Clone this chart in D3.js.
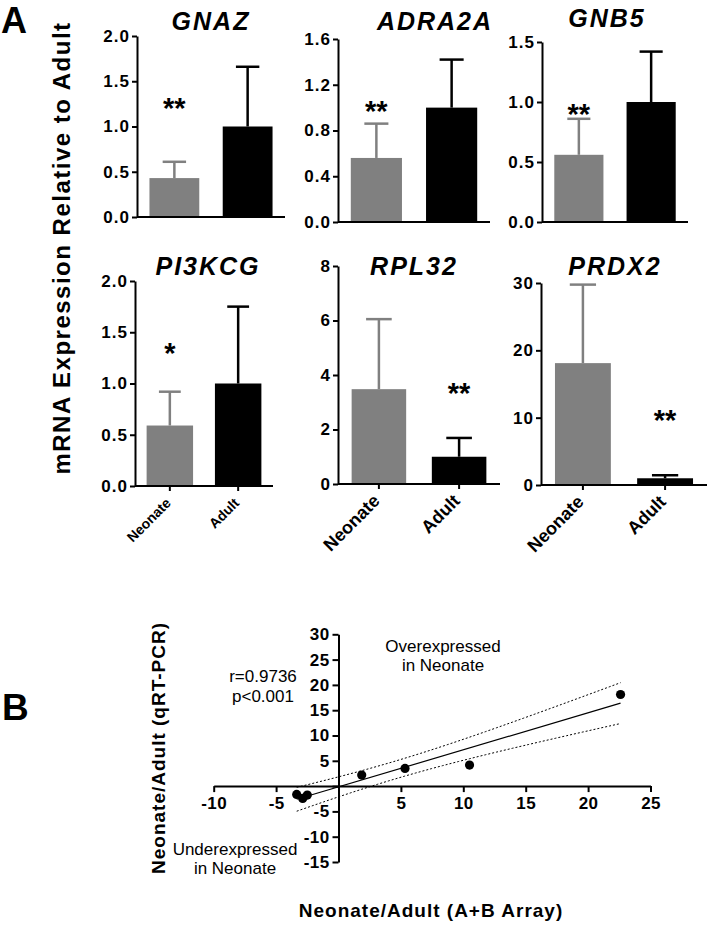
<!DOCTYPE html>
<html><head><meta charset="utf-8">
<script src="https://cdn.jsdelivr.net/npm/d3@7"></script>
<style>
body{margin:0;background:#fff}
svg{display:block}
text{font-family:"Liberation Sans",Arial,Helvetica,sans-serif;fill:#000}
</style>
</head><body><svg id="c" width="708" height="925"></svg>
<script>
// ---------- Panel A data ----------
const genes = ["GNAZ","ADRA2A","GNB5","PI3KCG","RPL32","PRDX2"];
const groups = ["Neonate","Adult"];
const neonateMean = [0.43,0.56,0.56,0.59,3.48,18.1];
const neonateSD   = [0.18,0.30,0.30,0.33,2.57,11.66];
const adultMean   = [1,1,1,1,1,1];
const adultSD     = [0.66,0.42,0.42,0.75,0.69,0.45];
const yMaxA = [2.0,1.6,1.5,2.0,8,30];
const yTicksA = [[0,0.5,1,1.5,2],[0,0.4,0.8,1.2,1.6],[0,0.5,1,1.5],[0,0.5,1,1.5,2],[0,2,4,6,8],[0,10,20,30]];
const yFormatA = [".1f",".1f",".1f",".1f","d","d"];
const sigMarks = ["**","**","**","*","**","**"];
const sigGroup = ["Neonate","Neonate","Neonate","Neonate","Adult","Adult"];
const sigLevel = [1.28,1.03,0.96,1.36,3.58,10.7];
const yLabelA = "mRNA Expression Relative to Adult";

// ---------- Panel B data ----------
const arrayRatio = [-3.35,-2.87,-2.5,1.86,5.33,10.5,22.6];
const pcrRatio   = [-1.64,-2.43,-1.78,2.17,3.5,4.15,18.1];
const xTicksB = [-10,-5,0,5,10,15,20,25];
const yTicksB = [-15,-10,-5,0,5,10,15,20,25,30];
const corrText = ["r=0.9736","p<0.001"];
const overText = ["Overexpressed","in Neonate"];
const underText = ["Underexpressed","in Neonate"];
const xTitleB = "Neonate/Adult (A+B Array)";
const yTitleB = "Neonate/Adult (qRT-PCR)";

const svg = d3.select("#c");
const GRAY = "#808080";
const FONT = '"Liberation Sans",Arial,Helvetica,sans-serif';

// ---------- layout (positions only) ----------
const panels = [
  {x0:137,x1:285,yt:36, yb:217,tdx:0,  ty:30, lab:0},
  {x0:338,x1:490,yt:39, yb:222,tdx:21, ty:30, lab:0},
  {x0:542,x1:688,yt:42, yb:222,tdx:-8, ty:27, lab:0},
  {x0:135,x1:273,yt:281,yb:486,tdx:4,  ty:275,lab:14},
  {x0:338,x1:500,yt:266,yb:484,tdx:-5, ty:275,lab:18},
  {x0:541,x1:707,yt:283,yb:485,tdx:-9, ty:275,lab:18}
];

function styleTicks(a, size, ls){
  a.attr("font-size",null).attr("font-family",null);
  a.select(".domain").attr("stroke-width",2);
  a.selectAll(".tick line").attr("stroke-width",2);
  a.selectAll(".tick text")
    .style("font-size",size+"px").style("font-weight","bold").style("letter-spacing",ls)
    .style("font-family",FONT).attr("fill","#000");
}

genes.forEach((g,i)=>{
  const P = panels[i];
  const x = d3.scaleBand().domain(groups).range([P.x0,P.x1]).paddingInner(0.32).paddingOuter(0.17);
  const y = d3.scaleLinear().domain([0,yMaxA[i]]).range([P.yb,P.yt]);
  const bw = x.bandwidth();
  const rows = [
    {grp:"Neonate",mean:neonateMean[i],sd:neonateSD[i],col:GRAY},
    {grp:"Adult",mean:adultMean[i],sd:adultSD[i],col:"#000"}
  ];
  const gp = svg.append("g");
  gp.selectAll("rect.bar").data(rows).join("rect")
    .attr("x",d=>x(d.grp)).attr("width",bw)
    .attr("y",d=>y(d.mean)).attr("height",d=>y(0)-y(d.mean))
    .attr("fill",d=>d.col);
  const cap = bw*0.47;
  rows.forEach(d=>{
    const cx = x(d.grp)+bw/2;
    gp.append("line").attr("x1",cx).attr("x2",cx).attr("y1",y(d.mean)).attr("y2",y(d.mean+d.sd))
      .attr("stroke",d.col).attr("stroke-width",2.5);
    gp.append("line").attr("x1",cx-cap/2).attr("x2",cx+cap/2).attr("y1",y(d.mean+d.sd)).attr("y2",y(d.mean+d.sd))
      .attr("stroke",d.col).attr("stroke-width",2.5);
  });
  const ax = gp.append("g").attr("transform",`translate(${P.x0},0)`)
    .call(d3.axisLeft(y).tickValues(yTicksA[i]).tickFormat(d3.format(yFormatA[i])).tickSize(5).tickSizeOuter(0).tickPadding(2));
  styleTicks(ax, 17, "1px");
  gp.append("line").attr("x1",P.x0).attr("x2",P.x1).attr("y1",P.yb).attr("y2",P.yb)
    .attr("stroke","#000").attr("stroke-width",2);
  if(P.lab){
    groups.forEach(c=>{
      const cx = x(c)+bw/2;
      gp.append("line").attr("x1",cx).attr("x2",cx).attr("y1",P.yb).attr("y2",P.yb+5)
        .attr("stroke","#000").attr("stroke-width",2);
      gp.append("text").attr("transform",`translate(${cx+2},${P.yb+18}) rotate(-45)`)
        .attr("text-anchor","end").attr("font-size",P.lab).attr("font-weight","bold").text(c);
    });
  }
  gp.append("text").attr("x",(P.x0+P.x1)/2+P.tdx).attr("y",P.ty)
    .attr("text-anchor","middle").attr("font-size",25).attr("font-weight","bold")
    .attr("font-style","italic").attr("letter-spacing","2px").text(g);
  gp.append("text").attr("x",x(sigGroup[i])+bw/2).attr("y",y(sigLevel[i])+0.58*29)
    .attr("text-anchor","middle").attr("font-size",29).attr("font-weight","bold").text(sigMarks[i]);
});

svg.append("text").attr("x",1).attr("y",33).attr("font-size",36).attr("font-weight","bold").text("A");
svg.append("text").attr("x",2).attr("y",720).attr("font-size",37).attr("font-weight","bold").text("B");

svg.append("text").attr("transform","translate(70,248) rotate(-90)")
  .attr("text-anchor","middle").attr("font-size",24).attr("font-weight","bold")
  .attr("letter-spacing","1.5px").text(yLabelA);

// ---------- Panel B ----------
const xB = d3.scaleLinear().domain([-10,25]).range([213.7,650.5]);
const yB = d3.scaleLinear().domain([-15,30]).range([862,634.3]);
const gB = svg.append("g");

// regression + 95% confidence band computed from the plotted points
const n = arrayRatio.length;
const mx = d3.mean(arrayRatio), my = d3.mean(pcrRatio);
let sxx=0, sxy=0;
for(let k=0;k<n;k++){sxx+=(arrayRatio[k]-mx)**2; sxy+=(arrayRatio[k]-mx)*(pcrRatio[k]-my);}
const slope = sxy/sxx, icpt = my-slope*mx;
let sse=0; for(let k=0;k<n;k++){sse+=(pcrRatio[k]-(icpt+slope*arrayRatio[k]))**2;}
const s = Math.sqrt(sse/(n-2));
const tcrit = 2.571;
const xmin = d3.min(arrayRatio), xmax = d3.max(arrayRatio);
const xs = d3.range(0,61).map(j=>xmin+(xmax-xmin)*j/60);
const hw = xv => tcrit*s*Math.sqrt(1/n+(xv-mx)**2/sxx);
const lineGen = d3.line().x(d=>xB(d[0])).y(d=>yB(d[1]));
gB.append("path").attr("d",lineGen([[xmin,icpt+slope*xmin],[xmax,icpt+slope*xmax]]))
  .attr("fill","none").attr("stroke","#000").attr("stroke-width",1.2);
gB.append("path").attr("d",lineGen(xs.map(v=>[v,icpt+slope*v+hw(v)])))
  .attr("fill","none").attr("stroke","#000").attr("stroke-width",1).attr("stroke-dasharray","2,2");
gB.append("path").attr("d",lineGen(xs.map(v=>[v,icpt+slope*v-hw(v)])))
  .attr("fill","none").attr("stroke","#000").attr("stroke-width",1).attr("stroke-dasharray","2,2");

const fmtB = d=> d===0 ? "" : String(d);
const axX = gB.append("g").attr("transform",`translate(0,${yB(0)})`)
  .call(d3.axisBottom(xB).tickValues(xTicksB).tickFormat(fmtB).tickSize(6).tickSizeOuter(0).tickPadding(5));
const axY = gB.append("g").attr("transform",`translate(${xB(0)},0)`)
  .call(d3.axisLeft(yB).tickValues(yTicksB).tickFormat(fmtB).tickSize(6).tickSizeOuter(0).tickPadding(3));
styleTicks(axX, 17, "0.4px");
styleTicks(axY, 17, "0.4px");

gB.selectAll("circle.pt").data(arrayRatio.map((v,k)=>[v,pcrRatio[k]])).join("circle")
  .attr("cx",d=>xB(d[0])).attr("cy",d=>yB(d[1])).attr("r",4.6).attr("fill","#000");

const multiline = (lines,x,y0,dy)=>lines.forEach((t,k)=>gB.append("text").attr("x",x).attr("y",y0+k*dy)
  .attr("text-anchor","middle").attr("font-size",17).text(t));
multiline(corrText,263,682,19.5);
multiline(overText,443,652,19);
multiline(underText,235,855,18.5);

gB.append("text").attr("x",431).attr("y",917).attr("text-anchor","middle")
  .attr("font-size",19).attr("font-weight","bold").attr("letter-spacing","1px").text(xTitleB);
gB.append("text").attr("transform","translate(165,748) rotate(-90)").attr("text-anchor","middle")
  .attr("font-size",19).attr("font-weight","bold").attr("letter-spacing","1px").text(yTitleB);
</script>
</body></html>
